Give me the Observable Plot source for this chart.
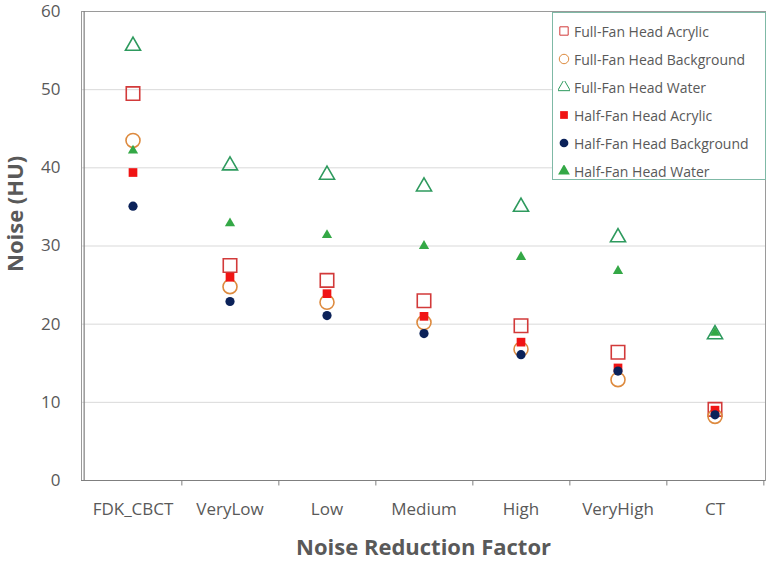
<!DOCTYPE html>
<html><head><meta charset="utf-8">
<script src="https://cdn.jsdelivr.net/npm/d3@7"></script>
<script src="https://cdn.jsdelivr.net/npm/@observablehq/plot@0.6"></script>
<style>
body{margin:0;background:#fff;}
#wrap{position:relative;width:768px;height:565px;font-family:"Open Sans",sans-serif;overflow:hidden;}
#legend{position:absolute;left:552px;top:12px;width:214px;height:168px;border:1px solid #7fb9a6;background:#fff;box-sizing:border-box;padding-top:4px;}
.li{display:flex;align-items:center;height:28px;font-size:14px;color:#595959;white-space:nowrap;}
.li svg{margin-left:5px;margin-right:4px;flex:none;}
</style></head><body>
<div id="wrap"><div id="chart"></div><div id="legend"></div></div>
<script>
const categories = ["FDK_CBCT","VeryLow","Low","Medium","High","VeryHigh","CT"];
const yTicks = [0,10,20,30,40,50,60];
const fullFanAcrylic    = [49.5, 27.5, 25.6, 23.0, 19.8, 16.4, 9.1];
const fullFanBackground = [43.5, 24.8, 22.8, 20.2, 16.8, 12.9, 8.2];
const fullFanWater      = [55.6, 40.3, 39.1, 37.6, 35.0, 31.1, 18.7];
const halfFanAcrylic    = [39.4, 26.0, 23.9, 21.0, 17.7, 14.4, 9.0];
const halfFanBackground = [35.1, 22.9, 21.1, 18.8, 16.1, 14.0, 8.4];
const halfFanWater      = [42.2, 32.9, 31.4, 30.0, 28.6, 26.8, 18.9];

const seriesNames = ["Full-Fan Head Acrylic","Full-Fan Head Background","Full-Fan Head Water","Half-Fan Head Acrylic","Half-Fan Head Background","Half-Fan Head Water"];
const seriesValues = [fullFanAcrylic, fullFanBackground, fullFanWater, halfFanAcrylic, halfFanBackground, halfFanWater];
const styles = [
  {symbol:"square",   r:7.6, fill:"none",    stroke:"#d23a3a", sw:1.6},
  {symbol:"circle",   r:7.0, fill:"none",    stroke:"#dd8a3e", sw:1.6},
  {symbol:"triangle", r:5.6, fill:"none",    stroke:"#2e9a5e", sw:1.6},
  {symbol:"square",   r:4.9, fill:"#f01414", stroke:"none",    sw:0},
  {symbol:"circle",   r:4.6, fill:"#0b2259", stroke:"none",    sw:0},
  {symbol:"triangle", r:3.8, fill:"#34a846", stroke:"none",    sw:0}
];
const rows = seriesNames.map((name, i) => categories.map((c, j) => ({series:name, cat:c, value:seriesValues[i][j]})));

const W = 768, H = 565, mL = 81, mR = 3, mT = 11, mB = 85;
const bw = (W - mL - mR) / categories.length;
const order = [2, 0, 1, 5, 3, 4];
const dotMarks = order.map(i => Plot.dot(rows[i], {
  x:"cat", y:"value", symbol: () => styles[i].symbol, r: styles[i].r,
  fill: styles[i].fill, stroke: styles[i].stroke, strokeWidth: styles[i].sw
}));

const chart = Plot.plot({
  width: W, height: H,
  marginLeft: mL, marginRight: mR, marginTop: mT, marginBottom: mB,
  style: {fontFamily: '"Open Sans", sans-serif', background: "#fff"},
  x: {type:"band", domain: categories, padding: 0},
  y: {domain:[0,60], ticks: yTicks},
  symbol: {type:"identity"},
  marks: [
    Plot.gridY(yTicks, {stroke:"#d9d9d9", strokeOpacity:1}),
    Plot.frame({stroke:"#9a9a9a"}),
    Plot.ruleX([categories[0]], {dx: -bw/2, y1: 0, y2: 60, stroke:"#7f7f7f", strokeWidth:1.2}),
    Plot.ruleY([0], {stroke:"#7f7f7f", strokeWidth:1.2}),
    Plot.ruleX(categories, {x: d => d, dx: bw/2, y1: 0, y2: -0.7, stroke:"#7f7f7f"}),
    Plot.axisY(yTicks, {tickSize:0, tickPadding:21, fontSize:17, fill:"#595959", label:null}),
    Plot.axisX({tickSize:0, tickPadding:22, fontSize:17, fill:"#595959", label:null}),
    Plot.text(["Noise Reduction Factor"], {frameAnchor:"bottom", dy:74, fontSize:22, fontWeight:"bold", fill:"#595959"}),
    Plot.text(["Noise (HU)"], {frameAnchor:"left", dx:-66, dy:26, rotate:-90, fontSize:22, fontWeight:"bold", fill:"#595959"}),
    ...dotMarks
  ]
});
document.getElementById("chart").appendChild(chart);

const lg = document.getElementById("legend");
const sym = {square: d3.symbolSquare, circle: d3.symbolCircle, triangle: d3.symbolTriangle};
seriesNames.forEach((name, i) => {
  const s = styles[i];
  const filled = s.fill !== "none";
  const size = filled ? 60 : 70;
  const p = d3.symbol(sym[s.symbol], size)();
  const div = document.createElement("div");
  div.className = "li";
  div.innerHTML = `<svg width="12" height="12" viewBox="-6 -6 12 12"><path d="${p}" fill="${filled ? s.fill : "none"}" stroke="${filled ? "none" : s.stroke}" stroke-width="1"/></svg><span>${name}</span>`;
  lg.appendChild(div);
});
</script>
</body></html>
